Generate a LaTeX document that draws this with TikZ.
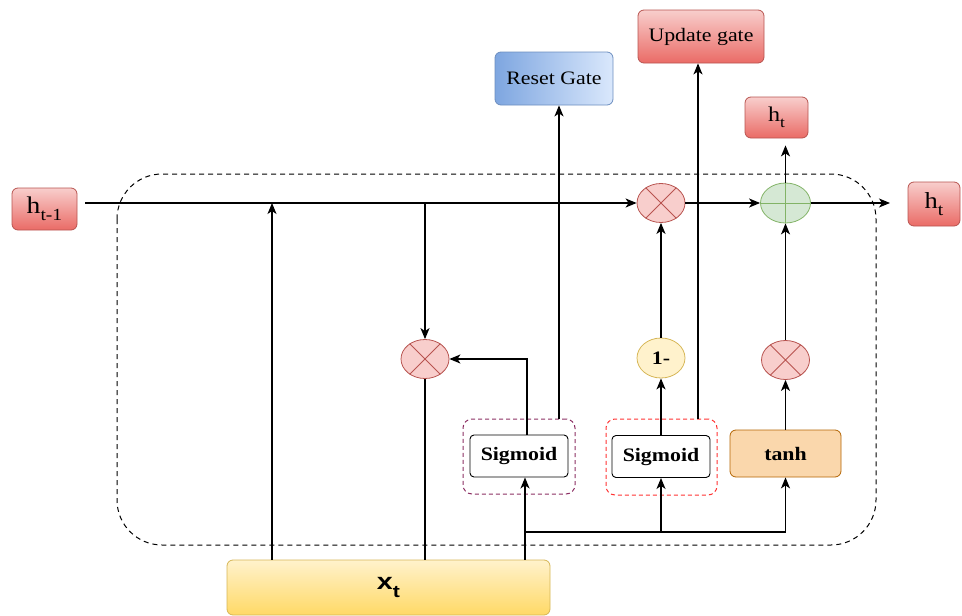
\documentclass[tikz,border=0pt]{standalone}
\usepackage{fontspec}
\setmainfont[FakeStretch=1.15]{Liberation Serif}
\newfontfamily\labelsans[FakeStretch=1.25]{Liberation Sans}
\usetikzlibrary{arrows.meta,shapes.geometric}

\definecolor{redtop}{HTML}{F8CECC}
\definecolor{redbot}{HTML}{EA6B66}
\definecolor{redline}{HTML}{B85450}
\definecolor{bluedark}{HTML}{7EA6E0}
\definecolor{bluelight}{HTML}{DAE8FC}
\definecolor{blueline}{HTML}{6C8EBF}
\definecolor{yeltop}{HTML}{FFF2CC}
\definecolor{yelbot}{HTML}{FFD966}
\definecolor{yelline}{HTML}{D6B656}
\definecolor{greenfill}{HTML}{D5E8D4}
\definecolor{greenline}{HTML}{82B366}
\definecolor{orangefill}{HTML}{FAD7AC}
\definecolor{orangeline}{HTML}{B46504}
\definecolor{purpleframe}{HTML}{8C2F63}
\definecolor{redframe}{HTML}{FF3333}

\tikzset{
  x=1pt, y=-1pt,
  lbl/.style={font=\fontsize{19}{19}\selectfont},
  redgrad/.style={draw=redline, line width=0.8pt, top color=redtop, bottom color=redbot,
    rounded corners=6pt, inner sep=0pt, lbl},
  bluegrad/.style={draw=blueline, line width=0.8pt, left color=bluedark, right color=bluelight,
    rounded corners=6pt, inner sep=0pt, lbl},
  inputbox/.style={draw=yelline, line width=0.8pt, top color=yeltop, bottom color=yelbot,
    rounded corners=6pt, inner sep=0pt},
  opcirc/.style={ellipse, draw=redline, fill=redtop, line width=0.8pt, inner sep=0pt,
    minimum width=48pt, minimum height=39pt},
  addcirc/.style={ellipse, draw=greenline, fill=greenfill, line width=0.8pt, inner sep=0pt,
    minimum width=50pt, minimum height=40pt},
  negcirc/.style={ellipse, draw=yelline, fill=yeltop, line width=0.8pt, inner sep=0pt,
    minimum width=48pt, minimum height=40pt, font=\bfseries\fontsize{19}{19}\selectfont},
  sigbox/.style={draw=black, line width=0.9pt, fill=white, rounded corners=4pt, inner sep=0pt,
    minimum width=98pt, minimum height=42pt, font=\bfseries\fontsize{19}{19}\selectfont},
  tanhbox/.style={draw=orangeline, line width=0.8pt, fill=orangefill, rounded corners=6pt,
    inner sep=0pt, minimum width=111pt, minimum height=47pt,
    font=\bfseries\fontsize{19}{19}\selectfont},
  gateframe/.style={dash pattern=on 4pt off 3pt, line width=1pt, rounded corners=9pt,
    inner sep=0pt},
  wire/.style={line width=1.3pt},
  arr/.style={wire, -{Stealth[length=11pt,width=9pt,inset=3pt]}},
}

% h with a subscript: #1 main size, #2 subscript size, #3 subscript text
\newcommand{\hsub}[3]{{\fontsize{#1}{#1}\selectfont h\raisebox{-0.3em}{\fontsize{#2}{#2}\selectfont #3}}}

\begin{document}
\begin{tikzpicture}
\useasboundingbox (0,0) rectangle (962,616);

% recurrent cell outline
\draw[dash pattern=on 5pt off 4pt, line width=1pt, rounded corners=45pt]
  (117,174) rectangle (876,545);

% inputs and outputs
\node[redgrad, minimum width=65pt, minimum height=42pt] (hprev) at (44.5,209) {\hsub{24}{17}{t-1}};
\node[redgrad, minimum width=63pt, minimum height=41pt] (htop) at (776.5,117.5) {\hsub{21}{15}{t}};
\node[redgrad, minimum width=52pt, minimum height=44pt] (hright) at (934,204) {\hsub{23}{17}{t}};
\node[bluegrad, minimum width=118pt, minimum height=53pt] (reset) at (554,78.5) {Reset Gate};
\node[redgrad, minimum width=126pt, minimum height=53pt] (update) at (701,36.5) {Update gate};
\node[inputbox, minimum width=323pt, minimum height=55pt] (xt) at (388.5,587.5)
  {\labelsans\bfseries\fontsize{23}{23}\selectfont x\raisebox{-0.32em}{\fontsize{17}{17}\selectfont t}};

% gate frames
\node[gateframe, draw=purpleframe, minimum width=112pt, minimum height=75pt] (frame1) at (519,456.5) {};
\node[gateframe, draw=redframe, minimum width=111pt, minimum height=76pt] (frame2) at (661.5,457) {};

% operations
\node[sigbox] (sig1) at (519,456) {Sigmoid};
\node[sigbox] (sig2) at (661,456.5) {Sigmoid};
\node[tanhbox] (tanh) at (785.5,453.5) {tanh};
\node[opcirc] (crossT) at (661,203) {};
\node[addcirc] (plus) at (785.5,203) {};
\node[opcirc] (cross1) at (425,359) {};
\node[opcirc] (cross2) at (785.5,360) {};
\node[negcirc] (onem) at (661,358) {1-};

% symbols inside the operation circles
\foreach \c in {crossT, cross1, cross2}
  \draw[redline, line width=0.8pt] (\c.45) -- (\c.225) (\c.135) -- (\c.315);
\draw[greenline, line width=0.8pt] (plus.north) -- (plus.south) (plus.west) -- (plus.east);

% junction points
\coordinate (lin) at (85,203);
\coordinate (lout) at (890,203);
\coordinate (jx) at (272,203);
\coordinate (jr) at (425,203);
\coordinate (jb) at (525,532);
\coordinate (jreset) at (559,0);
\coordinate (jupd) at (698,0);

% hidden state path
\draw[arr] (lin) -- (crossT.west);
\draw[arr] (crossT.east) -- (plus.west);
\draw[arr] (plus.east) -- (lout);
\draw[arr, shorten >=7pt] (plus.north) -- (plus.north |- htop.south);

% input connections
\draw[arr] (xt.north -| jx) -- (jx);
\draw[arr] (jr) -- (cross1.north);
\draw[wire] (cross1.south) -- (cross1.south |- xt.north);
\draw[arr] (xt.north -| jb) -- (sig1.south -| jb);
\draw[arr] (jb) -| (tanh.south);
\draw[arr] (jb -| sig2.south) -- (sig2.south);

% reset gate
\draw[arr] ([xshift=8pt]sig1.north) |- (cross1.east);
\draw[arr] (frame1.north -| jreset) -- (reset.south -| jreset);

% update gate
\draw[arr] (sig2.north) -- (onem.south);
\draw[arr] (onem.north) -- (crossT.south);
\draw[arr] (frame2.north -| jupd) -- (update.south -| jupd);

% candidate state
\draw[arr] (tanh.north) -- (cross2.south);
\draw[arr] (cross2.north) -- (plus.south);
\end{tikzpicture}
\end{document}
